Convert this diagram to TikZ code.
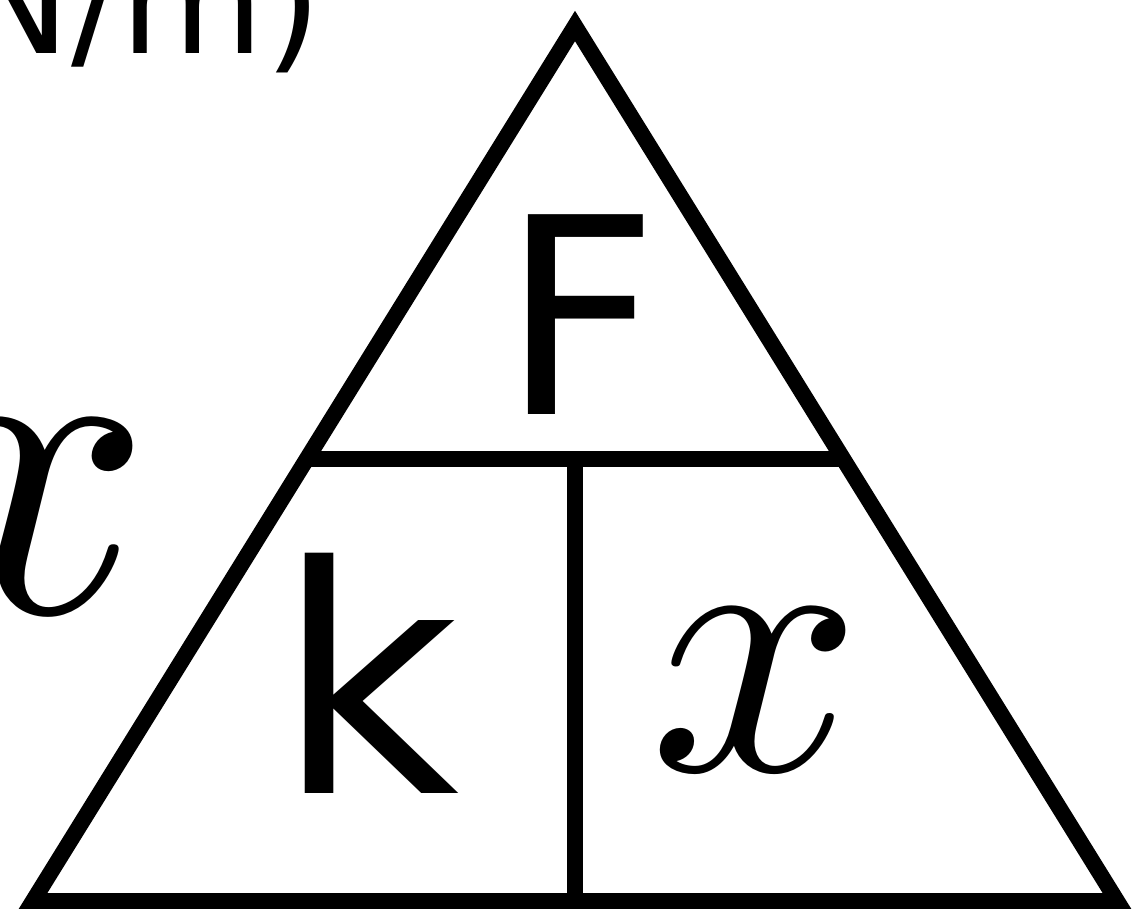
\documentclass[tikz,border=0pt]{standalone}
\usepackage{fontspec}
\usepackage{graphicx}
\newfontfamily\handfont{DejaVu Sans}
\usetikzlibrary{positioning,calc}
\tikzset{
triline/.style={
  draw=black,
  line width=1.6mm,
  line join=miter
},
symnode/.style={
  inner sep=0pt,
  text=black
}
}

\begin{document}
\begin{tikzpicture}[x=1cm,y=1cm]

\useasboundingbox (0,0) rectangle (11.4,9.08);
\clip (0,0) rectangle (11.4,9.08);
\fill[white] (0,0) rectangle (11.4,9.08);

\coordinate (apex) at (5.75,8.82);
\coordinate (botleft) at (0.33,0.07);
\coordinate (botright) at (11.17,0.07);
\coordinate (midleft) at ($(botleft)!0.505!(apex)$);
\coordinate (midright) at ($(botright)!0.505!(apex)$);
\coordinate (midbase) at (5.75,0.07);

\draw[triline] (apex) -- (botright) -- (botleft) -- cycle;
\draw[triline] (midleft) -- (midright);
\draw[triline] (midleft -| midbase) -- (midbase);

\node[symnode, font={\handfont\fontsize{78}{78}\selectfont}] (force) at (5.80,5.93) {F};
\node[symnode, font={\handfont\fontsize{90}{90}\selectfont}] (spring) at (3.68,2.35) {k};
\node[symnode] (stretch) at (7.56,2.18) {\scalebox{10.6}{$x$}};
\node[symnode] (sidex) at (0.26,3.91) {\scalebox{12.6}{$x$}};
\node[symnode, anchor=base west, font={\handfont\fontsize{42}{42}\selectfont}] (units) at (-0.40,8.55) {N/m)};

\end{tikzpicture}
\end{document}
